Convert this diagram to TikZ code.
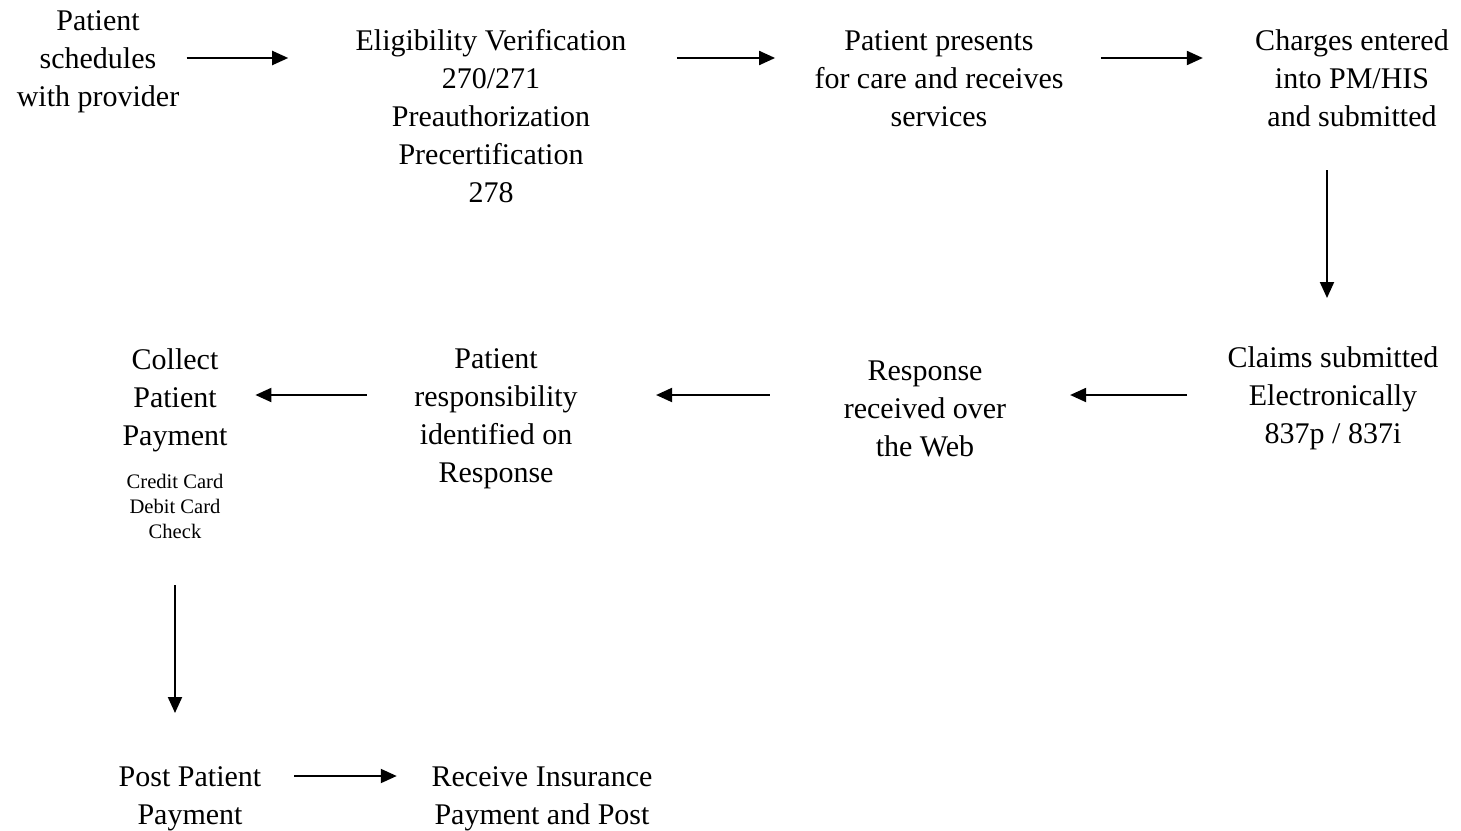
\documentclass[tikz,border=0pt]{standalone}
\usepackage{fontspec}
\setmainfont{Liberation Serif}
\usetikzlibrary{arrows.meta}

\tikzset{
  stage/.style={align=center, inner sep=0pt, font=\fontsize{15}{19}\selectfont},
  note/.style={align=center, inner sep=0pt, font=\fontsize{10.3}{12.5}\selectfont},
  flow/.style={line width=1pt, -{Triangle[length=8pt,width=7pt]}}
}

\begin{document}
\begin{tikzpicture}[x=0.5pt, y=-0.5pt]
\useasboundingbox (0,0) rectangle (1461,830);
% first row
\node [stage] (sched) at (98,62) {Patient\\schedules\\with provider};
\node [stage] (elig) at (491,116) {Eligibility Verification\\270/271\\Preauthorization\\Precertification\\278};
\node [stage] (care) at (939,79) {Patient presents\\for care and receives\\services};
\node [stage] (charge) at (1352,78) {Charges entered\\into PM/HIS\\and submitted};
% second row
\node [stage] (claim) at (1333,398) {Claims submitted\\Electronically\\837p / 837i};
\node [stage] (resp) at (925,409) {Response\\received over\\the Web};
\node [stage] (ident) at (496,419) {Patient\\responsibility\\identified on\\Response};
\node [stage] (collect) at (175,400) {Collect\\Patient\\Payment};
\node [note] (method) at (175,506) {Credit Card\\Debit Card\\Check};
% last row
\node [stage] (post) at (190,799) {Post Patient\\Payment};
\node [stage] (ins) at (542,799) {Receive Insurance\\Payment and Post};

\draw [flow, shorten <=3.5pt, shorten >=33.5pt] ([yshift=2pt]sched.east) -- ([yshift=2pt]elig.west |- sched.east);
\draw [flow, shorten <=25pt, shorten >=19.5pt] ([yshift=2pt]elig.east |- sched.east) -- ([yshift=2pt]care.west |- sched.east);
\draw [flow, shorten <=18.5pt, shorten >=26pt] ([yshift=2pt]care.east |- sched.east) -- ([yshift=2pt]charge.west |- sched.east);
\draw [flow, shorten <=46pt, shorten >=50pt] ([xshift=-12.5pt]charge.center) -- ([xshift=-12.5pt]charge.center |- claim.center);
\draw [flow, shorten <=20pt, shorten >=31.75pt] ([yshift=1.5pt]claim.west) -- ([yshift=1.5pt]resp.east |- claim.west);
\draw [flow, shorten <=36.75pt, shorten >=39pt] ([yshift=1.5pt]resp.west |- claim.west) -- ([yshift=1.5pt]ident.east |- claim.west);
\draw [flow, shorten <=23.5pt, shorten >=13.75pt] ([yshift=1.5pt]ident.west |- claim.west) -- ([yshift=1.5pt]collect.east |- claim.west);
\draw [flow, shorten <=92.5pt, shorten >=43pt] (collect.center) -- (collect.center |- post.center);
\draw [flow, shorten <=16.25pt, shorten >=17.25pt] ([yshift=11.5pt]post.east) -- ([yshift=11.5pt]ins.west);
\end{tikzpicture}
\end{document}
